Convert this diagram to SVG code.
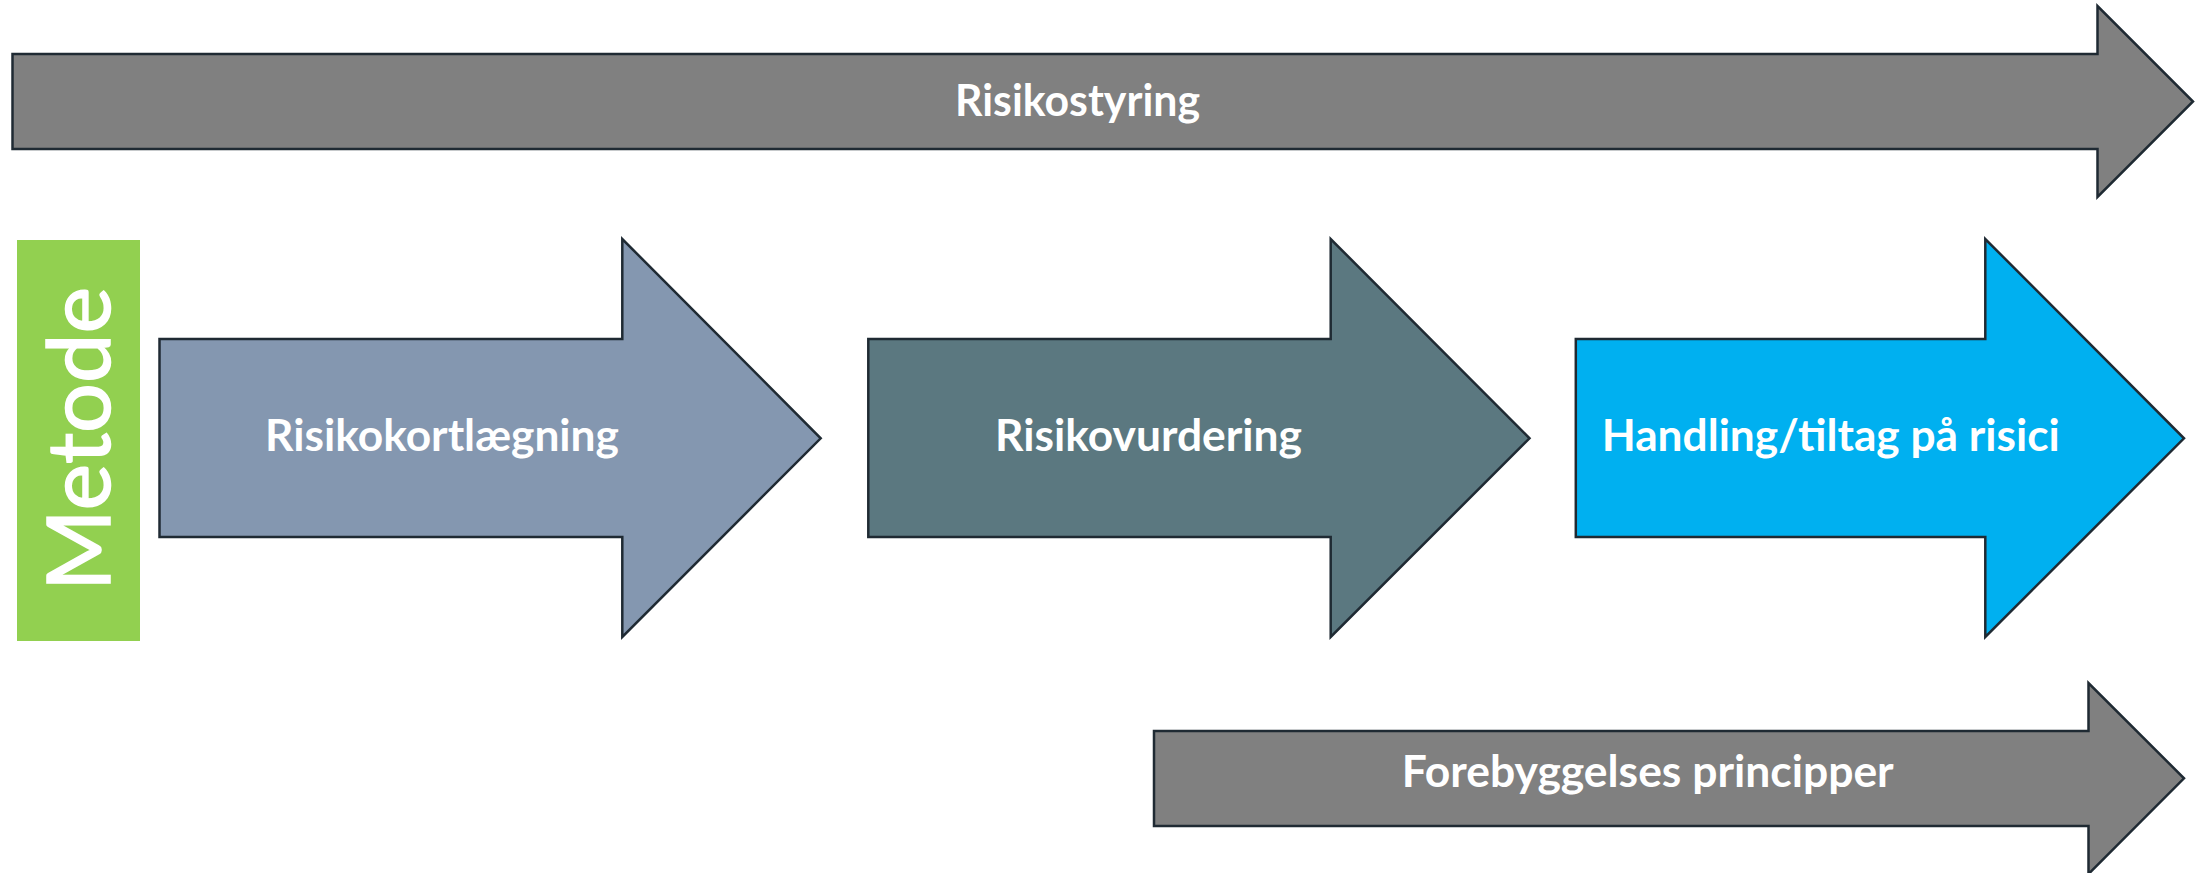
<svg xmlns="http://www.w3.org/2000/svg" width="2208" height="873" viewBox="0 0 2208 873">
<style>
.arr{stroke:#1f2a33;stroke-width:2.5;stroke-linejoin:miter}
.lbl{font-family:Lato,"Open Sans","Liberation Sans",sans-serif;font-weight:700;font-size:43px;fill:#ffffff}
.met{font-family:Lato,"Noto Sans","Liberation Sans",sans-serif;font-weight:400;font-size:88px;fill:#ffffff;stroke:#ffffff;stroke-width:1.5}
</style>
<rect width="2208" height="873" fill="#ffffff"/>
<g id="risikostyring">
<polygon class="arr" fill="#808080" points="12.5,54 2097.5,54 2097.5,6 2193,101.5 2097.5,197 2097.5,149 12.5,149"/>
<text class="lbl" x="955" y="116" textLength="245" lengthAdjust="spacingAndGlyphs">Risikostyring</text>
</g>
<g id="metode">
<rect x="17" y="240" width="123" height="401" fill="#92d050"/>
<text class="met" transform="translate(110,439) rotate(-90)" x="0" y="0" text-anchor="middle" textLength="304" lengthAdjust="spacingAndGlyphs">Metode</text>
</g>
<g id="risikokortlaegning">
<polygon class="arr" fill="#8497b0" points="159.5,339 622.3,339 622.3,239 820.7,438.3 622.3,637 622.3,537 159.5,537"/>
<text class="lbl" x="265" y="451" textLength="354" lengthAdjust="spacingAndGlyphs">Risikokortlægning</text>
</g>
<g id="risikovurdering">
<polygon class="arr" fill="#5b7880" points="868.3,339 1330.7,339 1330.7,239 1529.5,438.3 1330.7,637 1330.7,537 868.3,537"/>
<text class="lbl" x="995" y="451" textLength="307" lengthAdjust="spacingAndGlyphs">Risikovurdering</text>
</g>
<g id="handling">
<polygon class="arr" fill="#00b0f0" points="1575.8,339 1985.3,339 1985.3,239 2184,438.3 1985.3,637 1985.3,537 1575.8,537"/>
<text class="lbl" x="1601.7" y="451" textLength="458" lengthAdjust="spacingAndGlyphs">Handling/tiltag på risici</text>
</g>
<g id="forebyggelses">
<polygon class="arr" fill="#808080" points="1154,731 2088.5,731 2088.5,683 2184,778.3 2088.5,874 2088.5,826 1154,826"/>
<text class="lbl" x="1401.7" y="786.7" textLength="492" lengthAdjust="spacingAndGlyphs">Forebyggelses principper</text>
</g>
<g id="connectors"></g>
</svg>
